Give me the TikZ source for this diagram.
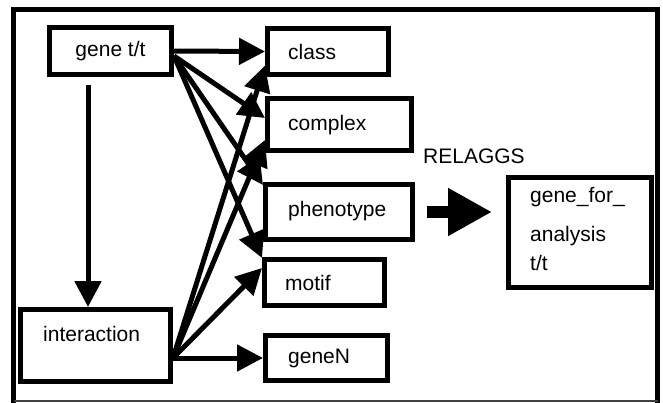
\documentclass[tikz,border=0pt]{standalone}
\usepackage{fontspec}
\setmainfont{Liberation Sans}
\usetikzlibrary{arrows.meta}
\tikzset{
  box/.style={draw, line width=5pt, inner sep=0pt},
  lbl/.style={font=\fontsize{21pt}{25pt}\selectfont, inner sep=0pt, anchor=west},
  conn/.style={line width=5pt, -{Triangle[length=26pt,width=26pt]}},
  bigarrow/.style={line width=12pt, -{Triangle[length=44pt,width=45pt]}},
}
\begin{document}
\begin{tikzpicture}[x=1pt,y=-1pt]
\useasboundingbox (0,0) rectangle (663,402);
% frame
\draw[line width=5pt] (13.5,406) -- (13.5,9.5) -- (657.5,9.5) -- (657.5,406);
\draw[line width=1.5pt, black!75] (13.5,401.2) -- (657.5,401.2);

% boxes
\node[box, minimum width=122pt, minimum height=47pt, font=\fontsize{21pt}{25pt}\selectfont] (gene) at (110.5,51) {gene t/t};
\node[box, minimum width=121pt, minimum height=46pt] (class) at (328,51.5) {};
\node[box, minimum width=144pt, minimum height=52pt] (complex) at (339.5,124.5) {};
\node[box, minimum width=147pt, minimum height=55pt] (pheno) at (339,212) {};
\node[box, minimum width=120pt, minimum height=46pt] (motif) at (324.5,282.5) {};
\node[box, minimum width=122pt, minimum height=45pt] (geneN) at (326.5,358) {};
\node[box, minimum width=150pt, minimum height=72pt] (inter) at (95.5,345.5) {};
\node[box, minimum width=143pt, minimum height=110pt] (gfa) at (580,232.5) {};

% labels
\node[lbl] (tclass) at (288,52) {class};
\node[lbl] (tcomplex) at (288,125) {complex};
\node[lbl] (tpheno) at (288,211) {phenotype};
\node[lbl] (tmotif) at (285,283) {motif};
\node[lbl] (tgeneN) at (288,358) {geneN};
\node[lbl] (tinter) at (43,334) {interaction};
\node[lbl] (relaggs) at (423,156) {RELAGGS};
\node[lbl] (tgfa1) at (530,197) {gene\_for\_};
\node[lbl] (tgfa2) at (530,236) {analysis};
\node[lbl] (tgfa3) at (530,263) {t/t};

% connectors from gene t/t
\coordinate (gs) at ([yshift=-5pt]gene.east);
\draw[conn] (gene.east) -- (class.west);
\draw[conn] (gs) -- ([yshift=6.5pt]complex.west);
\draw[conn] (gs) -- ([yshift=-3pt]pheno.north west);
\draw[conn] (gs) -- ([yshift=-1pt]motif.north west);
\draw[conn] ([xshift=-22.5pt,yshift=-8pt]gene.south) -- ([xshift=-7.5pt]inter.north);

% connectors from interaction
\coordinate (is) at ([yshift=-12.5pt]inter.east);
\draw[conn] (is) -- (geneN.west);
\draw[conn] (is) -- ([yshift=-14pt]class.west);
\draw[conn] (is) -- ([yshift=-15.5pt]complex.west);
\draw[conn] (is) -- ([yshift=14.5pt]motif.west);

% RELAGGS block arrow
\coordinate (ga) at (pheno.east -| gfa.west);
\draw[bigarrow] ([xshift=12pt]pheno.east) -- ([xshift=-14pt]ga);
\end{tikzpicture}
\end{document}
